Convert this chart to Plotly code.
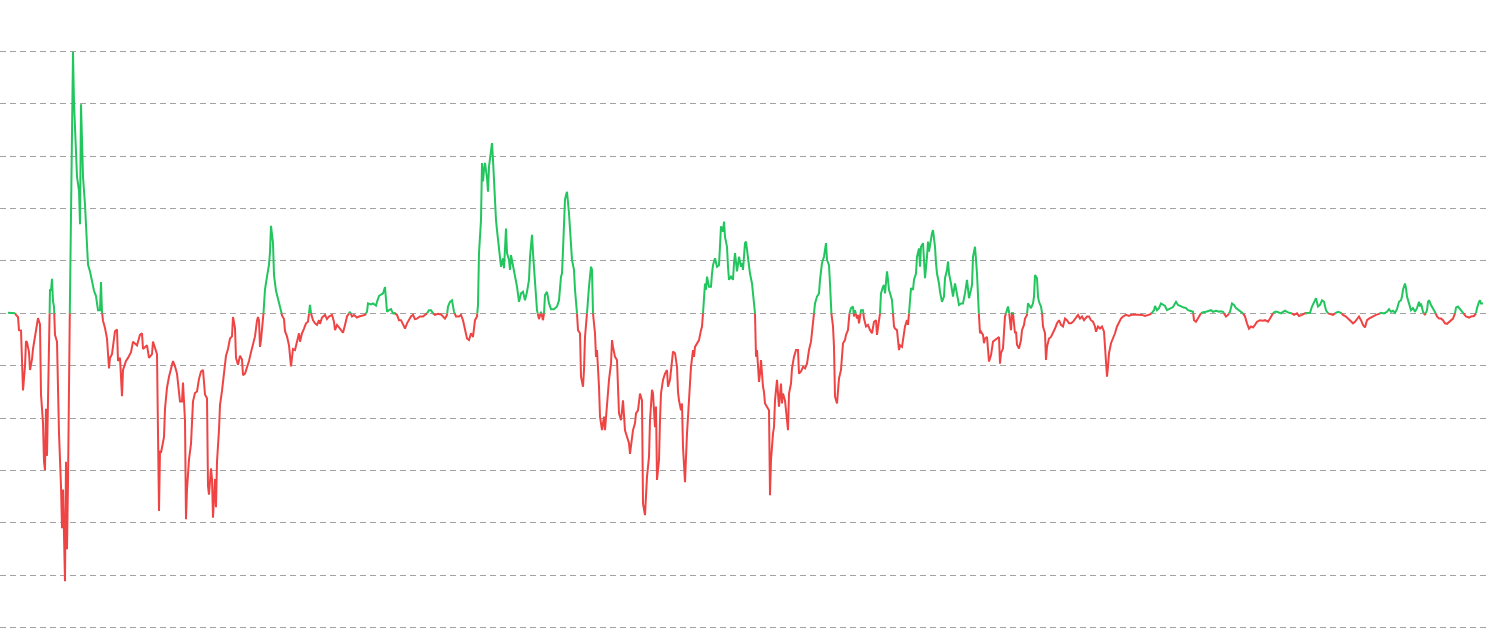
import plotly.graph_objects as go

# sample index (time axis) and series values
t = [8, 15, 16, 18, 19, 21, 22, 23, 25, 26, 27, 29, 30, 32, 33, 35, 37, 38, 40, 41, 43, 44, 45, 46, 47, 48, 49,
     50, 51, 52, 53, 54, 55, 57, 58, 59, 61, 62, 63, 64, 65, 66, 67, 68, 69, 71, 72, 73, 74, 75, 76, 77, 79, 80,
     81, 82, 83, 85, 87, 88, 90, 92, 94, 96, 98, 100, 101, 102, 103, 105, 107, 109, 110, 112, 113, 115, 117, 118,
     120, 122, 123, 126, 128, 131, 133, 137, 140, 142, 143, 147, 149, 152, 153, 155, 157, 159, 160, 161, 163, 164,
     165, 167, 169, 171, 173, 175, 177, 180, 182, 183, 185, 186, 187, 189, 191, 193, 195, 197, 199, 201, 203, 205,
     207, 208, 209, 211, 212, 213, 215, 216, 217, 219, 220, 222, 224, 226, 228, 230, 232, 233, 235, 236, 238, 240,
     242, 243, 245, 247, 249, 251, 253, 255, 257, 258, 259, 260, 261, 263, 265, 267, 269, 270, 271, 273, 274, 276,
     278, 281, 282, 284, 285, 287, 289, 291, 293, 295, 297, 299, 300,
     302, 304, 306, 308, 309, 310, 311, 313, 315, 317, 319, 320, 322, 325, 327, 329, 332, 334, 335, 337, 340, 343,
     345, 347, 349, 350, 352, 354, 357, 359, 362, 365, 367, 368, 371, 373, 376, 377, 379, 381, 383, 385, 387, 389,
     391, 393, 395, 397, 399, 401, 403, 405, 407, 409, 411, 413, 415, 417, 420, 423, 425, 427, 429, 431, 433, 435,
     438, 441, 443, 445, 447, 448, 450, 452, 454, 456, 459, 461, 463, 465, 467, 469, 471, 473, 475, 477, 478, 479,
     481, 482, 483, 484, 485, 487, 488, 489, 491, 492, 493, 495, 496, 497, 499, 500, 501, 503, 504, 506, 507, 509,
     510, 511, 513, 515, 517, 519, 521, 523, 525, 527, 529, 530, 532, 533, 535, 536, 537, 539, 541, 543, 544, 545,
     547, 549, 551, 554, 557, 559, 561, 562, 563, 565, 566, 567, 569, 570, 572, 574, 575, 577, 578, 580, 581, 583,
     584, 585, 587, 588, 589, 591, 592, 593,
     595, 596, 597, 599, 600, 602, 604, 605, 607, 608, 609, 611, 612, 613, 615, 617, 618, 619, 621, 622, 623, 625,
     627, 629, 630, 631, 633, 635, 636, 638, 640, 642, 643, 645, 647, 649, 650, 652, 653, 655, 656, 657, 659, 660,
     661, 663, 665, 667, 668, 670, 671, 673, 675, 677, 678, 679, 681, 682, 683, 685, 687, 689, 690, 691, 693, 694,
     695, 697, 699, 701, 702, 703, 705, 706, 707, 709, 711, 712, 713, 715, 717, 719, 720, 721, 723, 724, 725, 727,
     728, 729, 731, 733, 734, 735, 737, 738, 739, 741, 742, 743, 745, 746, 747, 749, 750, 752, 753, 755, 756, 757,
     759, 760, 761, 763, 764, 765, 767, 769, 770, 771, 773, 774, 775, 777, 778, 779, 781, 782, 783, 785, 787, 788,
     789, 791, 792, 794, 796, 798, 799, 801, 803, 805, 807, 809, 811, 813, 814, 815, 817, 819, 820, 822, 824, 826,
     827, 829, 830, 831, 833, 834, 835, 837, 838, 839, 841, 842, 843, 845, 846, 848, 849, 851, 853, 854, 855, 857,
     858, 859, 861, 863, 864, 866, 868, 870, 872, 874, 876, 877, 879, 880, 881, 883, 884, 885, 887, 888, 889, 891,
     892, 893,
     894, 895, 897, 899, 900, 902, 903, 905, 907, 908, 909, 910, 911, 913, 914, 916, 917, 919, 920, 921, 923, 924,
     925, 927, 928, 929, 931, 932, 933, 935, 936, 937, 939, 940, 942, 944, 945, 947, 948, 949, 951, 952, 953, 955,
     956, 957, 959, 961, 963, 964, 965, 967, 968, 969, 971, 972, 973, 975, 976, 977, 979, 980, 981, 983, 984, 985,
     987, 988, 989, 991, 992, 993, 995, 997, 999, 1000, 1001, 1003, 1004, 1005, 1007, 1008, 1009, 1011, 1012, 1013,
     1015, 1016, 1017, 1019, 1021, 1022, 1024, 1025, 1027, 1028, 1029, 1031, 1033, 1034, 1035, 1037, 1038, 1039,
     1041, 1042, 1043, 1045, 1046, 1047, 1049, 1051, 1053, 1055, 1057, 1059, 1061, 1063, 1065, 1067, 1069, 1071,
     1073, 1075, 1078, 1080, 1082, 1084, 1087, 1089, 1091, 1093, 1095, 1096, 1098, 1100, 1102, 1104, 1105, 1107,
     1108, 1109, 1111, 1113, 1115, 1117, 1119, 1121, 1123, 1126, 1129, 1131, 1134, 1137, 1139, 1142, 1145, 1147,
     1150, 1152, 1154, 1155, 1157, 1159, 1161, 1163, 1165, 1167, 1169, 1171, 1173, 1175, 1176, 1178, 1180, 1182,
     1184, 1186, 1188,
     1190, 1193, 1194, 1196, 1198, 1201, 1203, 1206, 1209, 1211, 1213, 1216, 1219, 1221, 1223, 1226, 1228, 1230,
     1232, 1234, 1236, 1239, 1241, 1243, 1245, 1247, 1249, 1251, 1253, 1255, 1257, 1260, 1263, 1265, 1268, 1270,
     1273, 1275, 1277, 1279, 1281, 1283, 1285, 1287, 1289, 1292, 1294, 1297, 1299, 1302, 1305, 1307, 1310, 1312,
     1314, 1316, 1318, 1320, 1322, 1324, 1326, 1328, 1330, 1333, 1335, 1338, 1341, 1343, 1346, 1349, 1351, 1353,
     1355, 1357, 1359, 1361, 1363, 1365, 1367, 1369, 1371, 1373, 1376, 1379, 1381, 1384, 1387, 1389, 1391, 1393,
     1395, 1397, 1399, 1401, 1402, 1403, 1405, 1406, 1407, 1409, 1410, 1411, 1413, 1415, 1417, 1419, 1420, 1421,
     1423, 1425, 1427, 1428, 1429, 1431, 1433, 1435, 1437, 1439, 1441, 1443, 1445, 1447, 1449, 1451, 1453, 1455,
     1456, 1458, 1460, 1462, 1464, 1466, 1469, 1471, 1474, 1476, 1477, 1479, 1480, 1481, 1483]

v = [0.01, 0.01, -0.03, -0.07, -0.32, -0.33, -1.05, -1.47, -1.01, -0.53, -0.55, -0.74, -1.08, -0.88, -0.68, -0.44,
     -0.24, -0.09, -0.21, -1.55, -2.09, -2.83, -2.99, -1.82, -2.72, -1.35, -0.68,
     0.46, 0.43, 0.66, 0.23, 0.13, -0.41, -0.54, -1.48, -2.29, -3.3, -4.1, -3.36, -4.3, -5.11, -2.83, -4.5, -3.23,
     -1.48, 2.21, 2.81, 4.99, 4.02, 3.48, 2.95, 2.61, 2.34, 1.7,
     3.99, 3.35, 2.61, 2.07, 1.27, 0.93, 0.8, 0.6, 0.43, 0.33, 0.06, 0.06, 0.6, 0.03, -0.14, -0.28, -0.48, -1.05,
     -0.85, -0.78, -0.61, -0.34, -0.31, -0.91,
     -0.85, -1.58, -1.08, -0.91, -0.85, -0.74, -0.54, -0.61, -0.41, -0.38, -0.68, -0.61, -0.85, -0.78, -0.54, -0.64,
     -0.78, -3.77, -2.62, -2.66, -2.49, -2.36,
     -1.82, -1.42, -1.21, -1.05, -0.91, -1.01, -1.15, -1.68, -1.68, -1.32, -2.05, -3.93, -3.36, -2.79, -2.49, -1.68,
     -1.52, -1.49, -1.25, -1.11, -1.08, -1.55,
     -1.62, -3.3, -3.46, -2.96, -3.16, -3.9, -3.16, -3.7, -2.83, -2.22, -1.75, -1.48, -1.15, -0.81, -0.68, -0.48,
     -0.44, -0.07, -0.28, -0.85, -0.98, -0.81,
     -0.88, -1.18, -1.15, -1.05, -0.91, -0.74, -0.61, -0.44, -0.14, -0.07, -0.14, -0.64, -0.51, -0.14, 0.46, 0.7,
     0.93, 1.17, 1.67, 1.34, 0.73, 0.43,
     0.26, 0.06, -0.04, -0.11, -0.34, -0.44, -0.61, -1.01, -0.68, -0.7, -0.51, -0.38, -0.54,
     -0.38, -0.29, -0.19, -0.16, 0.0, 0.16, 0.0, -0.13, -0.19, -0.22, -0.13, -0.2, -0.08, -0.03, -0.11, -0.06, -0.03,
     -0.16, -0.32, -0.22, -0.29, -0.37,
     -0.22, -0.06, 0.0, 0.03, -0.06, -0.03, -0.08, -0.06, -0.05, -0.03, 0.03, 0.19, 0.17, 0.19, 0.15, 0.22, 0.33,
     0.36, 0.38, 0.5, 0.03, 0.06,
     0.08, 0.0, 0.0, -0.03, -0.13, -0.13, -0.2, -0.29, -0.19, -0.13, -0.06, -0.03, -0.11, -0.1, -0.06, -0.06, -0.03,
     0.0, 0.06, 0.06, 0.0, -0.03,
     -0.01, -0.02, -0.06, -0.1, -0.03, 0.13, 0.22, 0.25, 0.03, -0.06, -0.06, -0.03, -0.13, -0.32, -0.48, -0.51,
     -0.38, -0.45, -0.13, -0.06, 0.16, 1.15,
     1.78, 2.87, 2.52, 2.74, 2.87, 2.58, 2.32, 2.8, 3.06, 3.25, 2.93, 1.97, 1.78, 1.59, 1.21, 1.02, 0.89, 1.05, 0.86,
     1.62, 1.15, 1.02,
     0.83, 1.11, 0.92, 0.7, 0.51, 0.22, 0.38, 0.41, 0.25, 0.41, 0.64, 1.08, 1.5, 1.15, 0.51, 0.32, 0.06, -0.11, 0.03,
     -0.13, 0.0, 0.35,
     0.41, 0.19, 0.08, 0.08, 0.13, 0.25, 0.7, 0.76, 1.21, 2.17, 2.26, 2.32, 1.91, 1.59, 1.02, 0.83, 0.45, 0.0, -0.32,
     -0.38, -1.21, -1.4,
     -1.08, -0.45, 0.0, 0.29, 0.51, 0.89, 0.83, 0.0,
     -0.38, -0.83, -0.7, -1.4, -1.97, -2.23, -1.97, -2.23, -1.66, -1.46, -1.27, -0.96, -0.51, -0.64, -0.83, -0.89,
     -1.53, -1.91, -2.04, -1.85, -1.66, -2.23,
     -2.36, -2.48, -2.68, -2.55, -2.23, -2.1, -1.91, -1.85, -1.53, -1.66, -3.63, -3.85, -3.12, -2.74, -2.04, -1.46,
     -1.53, -2.17, -1.78, -3.18, -2.8, -2.04,
     -1.53, -1.27, -1.15, -1.08, -1.4, -1.27, -1.08, -0.73, -0.76, -1.02, -1.5, -1.66, -1.85, -1.72, -2.55, -3.22,
     -2.29, -1.66, -1.46, -1.02, -0.7, -0.83,
     -0.64, -0.57, -0.51, -0.32, -0.25, 0.0, 0.57, 0.45, 0.7, 0.51, 0.51, 0.76, 0.92, 1.05, 0.89, 0.92, 1.21, 1.66,
     1.56, 1.75, 1.46, 1.27,
     0.89, 0.64, 0.7, 0.64, 0.96, 1.15, 0.8, 0.96, 1.08, 0.89, 0.96, 0.83, 1.34, 1.37, 1.21, 0.96, 0.76, 0.57, 0.32,
     0.0, -0.83, -0.7,
     -1.31, -1.15, -0.89, -1.4, -1.5, -1.72, -1.78, -1.85, -3.47, -2.8, -2.29, -2.17, -1.66, -1.27, -1.53, -1.78,
     -1.34, -1.72, -1.53, -1.66, -2.04, -2.23,
     -1.53, -1.34, -1.05, -0.83, -0.7, -0.7, -1.15, -1.11, -1.02, -1.05, -0.96, -0.7, -0.54, -0.13, 0.0, 0.19, 0.32,
     0.38, 0.64, 0.96, 1.08, 1.34,
     1.02, 0.92, 0.57, 0.06, -0.25, -0.64, -1.59, -1.72, -1.34, -1.24, -1.08, -0.89, -0.57, -0.51, -0.41, -0.32,
     -0.03, 0.1, 0.13, -0.06, 0.06, -0.1,
     -0.03, -0.19, 0.06, 0.06, -0.1, -0.25, -0.22, -0.32, -0.38, -0.16, -0.13, -0.41, -0.13, 0.0, 0.38, 0.51, 0.54,
     0.38, 0.8, 0.64, 0.45, 0.32,
     0.25, 0.0,
     -0.25, -0.29, -0.32, -0.7, -0.61, -0.64, -0.51, -0.25, -0.13, -0.22, 0.0, 0.38, 0.48, 0.45, 0.64, 0.76, 1.08,
     1.24, 0.89, 1.27, 1.34, 1.02,
     0.67, 1.08, 1.37, 1.18, 1.46, 1.53, 1.59, 1.27, 0.96, 0.76, 0.57, 0.41, 0.22, 0.32, 0.67, 0.83, 0.99, 0.76,
     0.57, 0.41, 0.32, 0.57,
     0.48, 0.38, 0.16, 0.19, 0.19, 0.29, 0.38, 0.64, 0.45, 0.29, 0.45, 0.54, 1.08, 1.27, 1.02, 0.76, -0.06, -0.38,
     -0.35, -0.41, -0.57, -0.48,
     -0.45, -0.76, -0.92, -0.8, -0.64, -0.54, -0.51, -0.48, -0.45, -0.96, -0.76, -0.67, -0.38, -0.06, 0.06, 0.13,
     0.03, -0.32, 0.0, 0.0,
     -0.38, -0.35, -0.6, -0.67, -0.51, -0.32, -0.22, -0.1, -0.03, 0.19, 0.16, 0.1, 0.19, 0.32, 0.73, 0.67, 0.32, 0.22,
     0.13, 0.03, -0.25, -0.38, -0.89, -0.64, -0.48, -0.45, -0.38, -0.29, -0.19, -0.13, -0.22, -0.25, -0.1, -0.13,
     -0.19, -0.19,
     -0.16, -0.1, -0.03, -0.1, -0.06, -0.13, -0.06, -0.06, -0.13, -0.16, -0.25, -0.35, -0.25, -0.29, -0.25, -0.35,
     -0.64, -1.21,
     -1.02, -0.76, -0.57, -0.48, -0.38, -0.25, -0.16, -0.1, -0.06, -0.03, -0.05, -0.03, -0.02, -0.02, -0.03, -0.03,
     -0.05, -0.04,
     -0.02, 0.01, 0.06, 0.14, 0.06, 0.1, 0.19, 0.16, 0.14, 0.06, 0.08, 0.11, 0.12, 0.19, 0.22, 0.16, 0.14, 0.13,
     0.11, 0.1, 0.06,
     0.05, 0.03, -0.13, -0.16, -0.1, 0.0, 0.02, 0.03, 0.04, 0.06, 0.03, 0.05, 0.03, 0.04, 0.03, -0.06, -0.03, 0.03,
     0.19, 0.16, 0.1, 0.06, 0.03, 0.0, -0.06, -0.19, -0.29, -0.25, -0.27, -0.22, -0.16, -0.13, -0.14, -0.13, -0.16,
     -0.1,
     0.0, 0.03, 0.03, 0.01, 0.0, 0.03, 0.05, 0.03, 0.01, 0.0, -0.03, 0.0, -0.05, -0.03, 0.0, 0.0, 0.01, 0.13,
     0.22, 0.29, 0.13, 0.16, 0.25, 0.22, 0.06, 0.0, -0.01, -0.03, 0.0, 0.03, 0.01, -0.03, -0.06, -0.11, -0.14, -0.19,
     -0.16, -0.1, -0.06, -0.13, -0.22, -0.27, -0.13, -0.1, -0.08, -0.05, -0.03, -0.01, 0.01, 0.0, 0.03, 0.08, 0.03,
     0.05,
     0.01, 0.08, 0.22, 0.25, 0.32, 0.45, 0.57, 0.48, 0.32, 0.19, 0.13, 0.06, 0.1, 0.03, 0.1, 0.22, 0.13, 0.19,
     0.03, -0.03, 0.06, 0.22, 0.25, 0.16, 0.1, 0.03, -0.06, -0.1, -0.1, -0.13, -0.19, -0.2, -0.16, -0.13, -0.1, 0.0,
     0.11, 0.13, 0.08, 0.03, -0.01, -0.06, -0.08, -0.06, -0.05, 0.0, 0.1, 0.22, 0.25, 0.19, 0.19]

GREEN = "#22c55e"
RED = "#ef4444"
GRID = "#a3a3a3"

# split the line at the zero baseline so each side gets its own colour
xs, ys = [], []
for i in range(len(t)):
    if i > 0:
        a, b = v[i - 1], v[i]
        if (a > 0 > b) or (a < 0 < b):
            xs.append(t[i - 1] + (t[i] - t[i - 1]) * a / (a - b))
            ys.append(0.0)
    xs.append(t[i])
    ys.append(v[i])

up = [y if y >= 0 else None for y in ys]
dn = [y if y <= 0 else None for y in ys]

fig = go.Figure()
fig.add_trace(go.Scatter(x=xs, y=dn, mode="lines", line=dict(color=RED, width=2),
                         connectgaps=False, hoverinfo="skip", showlegend=False))
fig.add_trace(go.Scatter(x=xs, y=up, mode="lines", line=dict(color=GREEN, width=2),
                         connectgaps=False, hoverinfo="skip", showlegend=False))

fig.update_layout(
    width=1490, height=633,
    margin=dict(l=0, r=0, t=0, b=0),
    paper_bgcolor="white", plot_bgcolor="white",
    showlegend=False,
    xaxis=dict(visible=False, range=[0, 1490], fixedrange=True),
    yaxis=dict(range=[-6.10, 5.98], tick0=0, dtick=1, showgrid=True, gridcolor=GRID,
               gridwidth=1, griddash="6px,4px", zeroline=False, showticklabels=False,
               ticks="", showline=False, fixedrange=True),
)

fig.write_html("out.html", config={"displayModeBar": False},
               post_script="document.body.style.margin='0';document.body.style.overflow='hidden';")
